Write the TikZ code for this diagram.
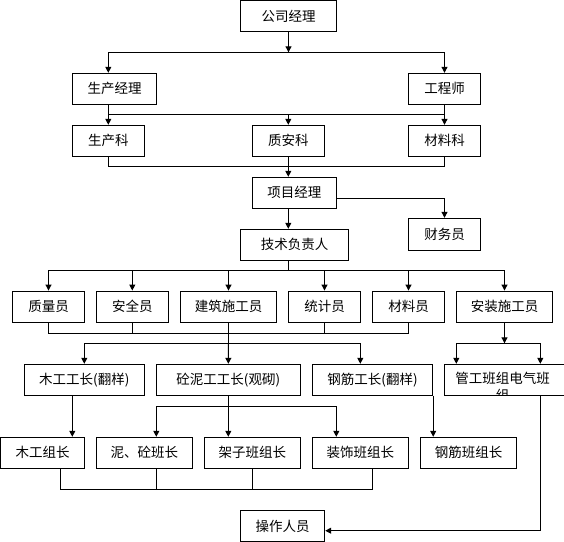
\documentclass[tikz,border=0pt]{standalone}
\usepackage{fontspec}
\newfontfamily\cjk{Noto Sans CJK SC}
\usetikzlibrary{arrows.meta}

\begin{document}
\begin{tikzpicture}[x=1pt, y=-1pt,
  box/.style={draw, line width=1pt, inner sep=0pt, minimum height=31pt, font=\cjk\fontsize{13.5}{16.5}\selectfont},
  arr/.style={line width=1pt, -{Triangle[width=6pt,length=6pt]}},
  line/.style={line width=1pt}]
\useasboundingbox (0,0) rectangle (564,541);

% boxes
\node[box, minimum width=95.6pt] (gsjl) at (288.5,16) {公司经理};
\node[box, minimum width=84.4pt] (scjl) at (114.5,88.8) {生产经理};
\node[box, minimum width=72.4pt] (gcs) at (444.5,88.8) {工程师};
\node[box, minimum width=72pt] (sck) at (108.3,140.8) {生产科};
\node[box, minimum width=72pt] (zak) at (288.3,140.8) {质安科};
\node[box, minimum width=72.4pt] (clk) at (444.5,140.8) {材料科};
\node[box, minimum width=84pt] (xmjl) at (294.3,192.8) {项目经理};
\node[box, minimum width=72.4pt, minimum height=32pt] (cwy) at (444.5,234.3) {财务员};
\node[box, minimum width=107.6pt] (jsfz) at (294.5,244.8) {技术负责人};

\node[box, minimum width=72.4pt, minimum height=31.5pt] (zly) at (48.5,306.8) {质量员};
\node[box, minimum width=72pt, minimum height=31.5pt] (aqy) at (132.3,306.8) {安全员};
\node[box, minimum width=96.4pt, minimum height=31.5pt] (jzsg) at (228.5,306.8) {建筑施工员};
\node[box, minimum width=72.4pt, minimum height=31.5pt] (tjy) at (324.5,306.8) {统计员};
\node[box, minimum width=72.4pt, minimum height=31.5pt] (cly) at (408.5,306.8) {材料员};
\node[box, minimum width=96.4pt, minimum height=31.5pt] (azsg) at (504.5,306.8) {安装施工员};

\node[box, minimum width=120pt] (mggz) at (84.3,379.8) {木工工长(翻样)};
\node[box, minimum width=144pt] (tngz) at (228.3,379.8) {砼泥工工长(观砌)};
\node[box, minimum width=120.4pt] (gjgz) at (372.5,379.8) {钢筋工长(翻样)};
\node[box, minimum width=125.7pt] (ggbz) at (507.2,379.8) {};
\begin{scope}
\clip (ggbz.north west) rectangle (ggbz.south east);
\node[font=\cjk\fontsize{13.5}{16.5}\selectfont, align=center, inner sep=0pt] (ggbztxt) at (502.5,386.5) {管工班组电气班\\组};
\end{scope}

\node[box, minimum width=84pt] (mgzz) at (42.7,452.8) {木工组长};
\node[box, minimum width=96pt] (ntbz) at (144.3,452.8) {泥、砼班长};
\node[box, minimum width=96pt] (jzbz) at (252.3,452.8) {架子班组长};
\node[box, minimum width=96pt] (zsbz) at (360.3,452.8) {装饰班组长};
\node[box, minimum width=96.4pt] (gjbz) at (468.5,452.8) {钢筋班组长};

\node[box, minimum width=84pt] (czry) at (282.7,526.2) {操作人员};

% 公司经理
\coordinate (a0) at (288.5,52.3);
\coordinate (a1) at (108.3,52.3);
\coordinate (a2) at (444.5,52.3);
\draw[arr] (gsjl.south) -- (a0);
\draw[line] (a1) -- (a2);
\draw[arr] (a1) -- (a1 |- scjl.north);
\draw[arr] (a2) -- (gcs.north);

% 生产经理, 工程师
\coordinate (b1) at (108.3,114.3);
\coordinate (b2) at (288.3,114.3);
\coordinate (b3) at (444.5,114.3);
\draw[line] (b1 |- scjl.south) -- (b1) -- (b3) -- (gcs.south);
\draw[arr] (b1) -- (sck.north);
\draw[arr] (b2) -- (zak.north);
\draw[arr] (b3) -- (clk.north);

% 科 to 项目经理
\coordinate (c1) at (108.3,166);
\coordinate (c2) at (288.3,166);
\coordinate (c3) at (444.5,166);
\draw[line] (sck.south) -- (c1) -- (c3) -- (clk.south);
\draw[line] (zak.south) -- (c2);
\draw[arr] (c2) -- (c2 |- xmjl.north);

% 项目经理
\draw[arr] ([yshift=-5.5pt]xmjl.east) -| (cwy.north);
\draw[arr] (c2 |- xmjl.south) -- (c2 |- jsfz.north);

% 技术负责人
\coordinate (e0) at (288.3,270.3);
\draw[line] (c2 |- jsfz.south) -- (e0);
\draw[line] (zly.north |- e0) -- (azsg.north |- e0);
\foreach \n in {zly,aqy,jzsg,tjy,cly,azsg}
  \draw[arr] (\n.north |- e0) -- (\n.north);

% 员 to 工长
\coordinate (f0) at (0,333.3);
\draw[line] (zly.south) -- (zly.south |- f0) -- (cly.south |- f0) -- (cly.south);
\foreach \n in {aqy,jzsg,tjy}
  \draw[line] (\n.south) -- (\n.south |- f0);
\coordinate (g1) at (84.3,343.3);
\coordinate (g3) at (360.3,343.3);
\draw[line] (jzsg.south |- f0) -- (jzsg.south |- g1);
\draw[line] (g1) -- (g3);
\draw[arr] (g1) -- (mggz.north);
\draw[arr] (jzsg.south |- g1) -- (tngz.north);
\draw[arr] (g3) -- (g3 |- gjgz.north);

% 安装施工员
\coordinate (h1) at (456.3,343.3);
\coordinate (h2) at (540.3,343.3);
\draw[arr] (azsg.south) -- (azsg.south |- h1);
\draw[line] (h1) -- (h2);
\draw[arr] (h1) -- (h1 |- ggbz.north);
\draw[arr] (h2) -- (h2 |- ggbz.north);

% 工长 to 班组长
\coordinate (k1) at (72.3,395.3);
\draw[arr] (k1) -- (k1 |- mgzz.north);
\coordinate (m1) at (156.3,406.3);
\coordinate (m3) at (336.3,406.3);
\draw[line] (tngz.south) -- (tngz.south |- m1);
\draw[line] (m1) -- (m3);
\draw[arr] (m1) -- (m1 |- ntbz.north);
\draw[arr] (tngz.south |- m1) -- (tngz.south |- jzbz.north);
\draw[arr] (m3) -- (m3 |- zsbz.north);
\draw[arr] (gjgz.south east) -- (gjgz.south east |- gjbz.north);
\draw[arr] (h2 |- ggbz.south) |- ([yshift=-4.5pt]czry.east);

% 班组长 bottom line
\coordinate (p1) at (60.3,489);
\coordinate (p4) at (372.3,489);
\draw[line] (p1 |- mgzz.south) -- (p1) -- (p4) -- (p4 |- zsbz.south);
\draw[line] (m1 |- ntbz.south) -- (m1 |- p1);
\draw[line] (jzbz.south) -- (jzbz.south |- p1);
\end{tikzpicture}
\end{document}
